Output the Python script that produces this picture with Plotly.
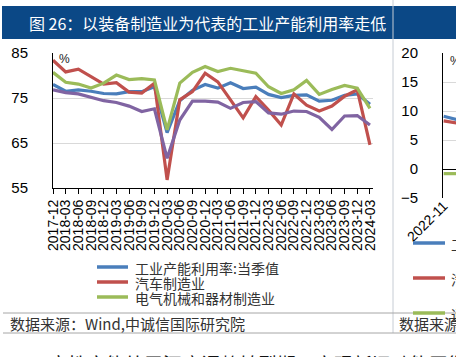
import plotly.graph_objects as go

W, H = 456, 357

# ---------------- data ----------------
quarters = ["2017-12", "2018-03", "2018-06", "2018-09", "2018-12", "2019-03", "2019-06",
            "2019-09", "2019-12", "2020-03", "2020-06", "2020-09", "2020-12", "2021-03",
            "2021-06", "2021-09", "2021-12", "2022-03", "2022-06", "2022-09", "2022-12",
            "2023-03", "2023-06", "2023-09", "2023-12", "2024-03"]
industry_total = [78.0, 76.5, 76.8, 76.5, 76.0, 75.9, 76.4, 76.4, 77.5, 67.3, 74.4, 76.7, 78.0,
                  77.2, 78.4, 77.1, 77.4, 75.8, 75.1, 75.6, 75.7, 74.3, 74.5, 75.6, 75.9, 73.6]
auto_mfg = [83.4, 80.8, 81.4, 79.7, 78.1, 78.4, 76.3, 76.1, 78.3, 56.8, 74.6, 76.4, 80.5,
            78.6, 74.6, 70.6, 75.3, 72.3, 69.0, 75.9, 73.4, 72.1, 73.2, 75.4, 76.8, 64.6]
electrical_mfg = [80.7, 78.5, 78.1, 77.2, 78.3, 80.1, 79.1, 79.3, 79.0, 67.9, 78.3, 80.7, 82.0,
                  80.9, 81.6, 81.0, 80.5, 77.5, 76.0, 76.8, 78.9, 75.8, 76.9, 77.8, 77.2, 72.7]
equipment_mfg = [76.8, 76.2, 75.9, 75.1, 74.4, 74.0, 73.2, 72.0, 72.6, 61.6, 70.1, 74.3, 74.3,
                 74.1, 72.7, 74.0, 74.2, 71.7, 71.4, 72.1, 72.0, 70.7, 68.0, 71.0, 71.1, 69.0]
series_names = ["工业产能利用率:当季值", "汽车制造业", "电气机械和器材制造业", "专用设备制造业"]
y_ticks = [55, 65, 75, 85]

# neighbouring (cropped) chart
months2 = ["2022-11", "2022-12"]
right_blue = [9.1, 8.5]
right_red = [8.3, 7.9]
right_green = [-0.8, -0.8]
right_names = ["工业增加值：当月同比", "汽车制造业", "通用设备制造业"]
y_ticks2 = [-5, 0, 5, 10, 15, 20]

title_text = "图 26：以装备制造业为代表的工业产能利用率走低"
source_text = "数据来源：Wind,中诚信国际研究院"
body_text = "良性产能处于深度调整转型期，实现新旧动能平衡"

colors = ["#4a7ebb", "#c0504d", "#9bbb59", "#8064a2"]
CJK = "Noto Sans CJK SC"
LAT = "Liberation Sans, Arial"


def px(x):
    return x / W


def py(y):
    return 1 - y / H


fig = go.Figure()
for vals, name, col in zip([industry_total, auto_mfg, electrical_mfg, equipment_mfg],
                           series_names, colors):
    fig.add_trace(go.Scatter(x=quarters, y=vals, name=name, mode="lines",
                             line=dict(color=col, width=3.2), showlegend=False,
                             xaxis="x", yaxis="y"))

for vals, name, col in zip([right_blue, right_red, right_green], right_names, colors[:3]):
    fig.add_trace(go.Scatter(x=months2, y=vals, name=name, mode="lines",
                             line=dict(color=col, width=3.2), showlegend=False,
                             xaxis="x2", yaxis="y2"))

shapes = []
annotations = []

# title bar
shapes.append(dict(type="rect", xref="paper", yref="paper", x0=px(2), x1=px(W), y0=py(39), y1=py(6),
                   fillcolor="#0b4886", line=dict(width=0), layer="below"))
annotations.append(dict(text=title_text, xref="paper", yref="paper", x=px(27), y=py(23),
                        xanchor="left", yanchor="middle", showarrow=False,
                        font=dict(family=CJK, size=16, color="white")))
# separator between panels
shapes.append(dict(type="line", xref="paper", yref="paper", x0=px(393), x1=px(393), y0=py(0), y1=py(333),
                   line=dict(color="#c6ccd4", width=1)))
# source band lines
for yy in [313, 333]:
    shapes.append(dict(type="line", xref="paper", yref="paper", x0=px(3), x1=px(W), y0=py(yy), y1=py(yy),
                       line=dict(color="#a6a6a6", width=1)))
for xx in [8, 397]:
    annotations.append(dict(text=source_text, xref="paper", yref="paper", x=px(xx), y=py(323.5),
                            xanchor="left", yanchor="middle", showarrow=False,
                            font=dict(family=CJK, size=15, color="#333333")))
annotations.append(dict(text=body_text, xref="paper", yref="paper", x=px(47), y=py(348),
                        xanchor="left", yanchor="top", showarrow=False,
                        font=dict(family=CJK, size=19, color="#111111")))

# % units
annotations.append(dict(text="%", xref="paper", yref="paper", x=px(64), y=py(59),
                        xanchor="center", yanchor="middle", showarrow=False,
                        font=dict(family=LAT, size=12, color="#222")))
annotations.append(dict(text="%", xref="paper", yref="paper", x=px(455), y=py(61),
                        xanchor="center", yanchor="middle", showarrow=False,
                        font=dict(family=LAT, size=12, color="#222")))

# manual legend (main chart)
for i, (name, col) in enumerate(zip(series_names[:3], colors[:3])):
    yy = 267 + 15 * i
    shapes.append(dict(type="line", xref="paper", yref="paper", x0=px(97), x1=px(128), y0=py(yy), y1=py(yy),
                       line=dict(color=col, width=3.5)))
    annotations.append(dict(text=name, xref="paper", yref="paper", x=px(133), y=py(yy + 0.5),
                            xanchor="left", yanchor="middle", showarrow=False,
                            font=dict(family=CJK, size=14, color="#333")))
# legend of cropped chart
for i, (name, col) in enumerate(zip(right_names, colors[:3])):
    yy = 243 + 35 * i
    shapes.append(dict(type="line", xref="paper", yref="paper", x0=px(413), x1=px(445), y0=py(yy), y1=py(yy),
                       line=dict(color=col, width=3.5)))
    annotations.append(dict(text=name, xref="paper", yref="paper", x=px(449), y=py(yy + 0.5),
                            xanchor="left", yanchor="middle", showarrow=False,
                            font=dict(family=CJK, size=14, color="#333")))

fig.update_layout(
    template="none",
    width=W, height=H, autosize=False,
    margin=dict(l=0, r=0, t=0, b=0),
    paper_bgcolor="white", plot_bgcolor="white",
    showlegend=False,
    shapes=shapes, annotations=annotations,
    xaxis=dict(type="category", domain=[px(53), px(373)], range=[0, 25.24], anchor="y",
               showline=True, linecolor="black", linewidth=1, showgrid=False, zeroline=False,
               ticks="outside", ticklen=5, tickcolor="black", tickwidth=1,
               tickmode="array", tickvals=quarters, ticktext=quarters, tickangle=-90,
               tickfont=dict(family=LAT, size=14, color="black"), automargin=False),
    yaxis=dict(domain=[py(188), py(53)], range=[55, 85], anchor="x",
               tickmode="array", tickvals=y_ticks, showline=True, linecolor="black", linewidth=1,
               showgrid=True, gridcolor="#d9d9d9", gridwidth=1, zeroline=False, ticks="",
               ticklabelstandoff=21, tickfont=dict(family=LAT, size=15, color="black"),
               automargin=False),
    xaxis2=dict(type="category", domain=[px(443), 1], range=[-0.05, 0.9], anchor="y2",
                showline=False, showgrid=False, zeroline=False, ticks="",
                tickmode="array", tickvals=months2, ticktext=months2, tickangle=-45,
                ticklabelstandoff=-4,
                tickfont=dict(family=LAT, size=14, color="black"), automargin=False),
    yaxis2=dict(domain=[py(198), py(53)], range=[-5, 20], anchor="x2",
                tickmode="array", tickvals=y_ticks2, showline=True, linecolor="black", linewidth=1,
                showgrid=True, gridcolor="#d9d9d9", gridwidth=1, zeroline=True,
                zerolinecolor="black", zerolinewidth=1, ticks="",
                ticklabelstandoff=21, tickfont=dict(family=LAT, size=15, color="black"),
                automargin=False),
)

fig.write_html("out.html", config={"displayModeBar": False},
               post_script="document.body.style.margin='0';document.body.style.overflow='hidden';")
